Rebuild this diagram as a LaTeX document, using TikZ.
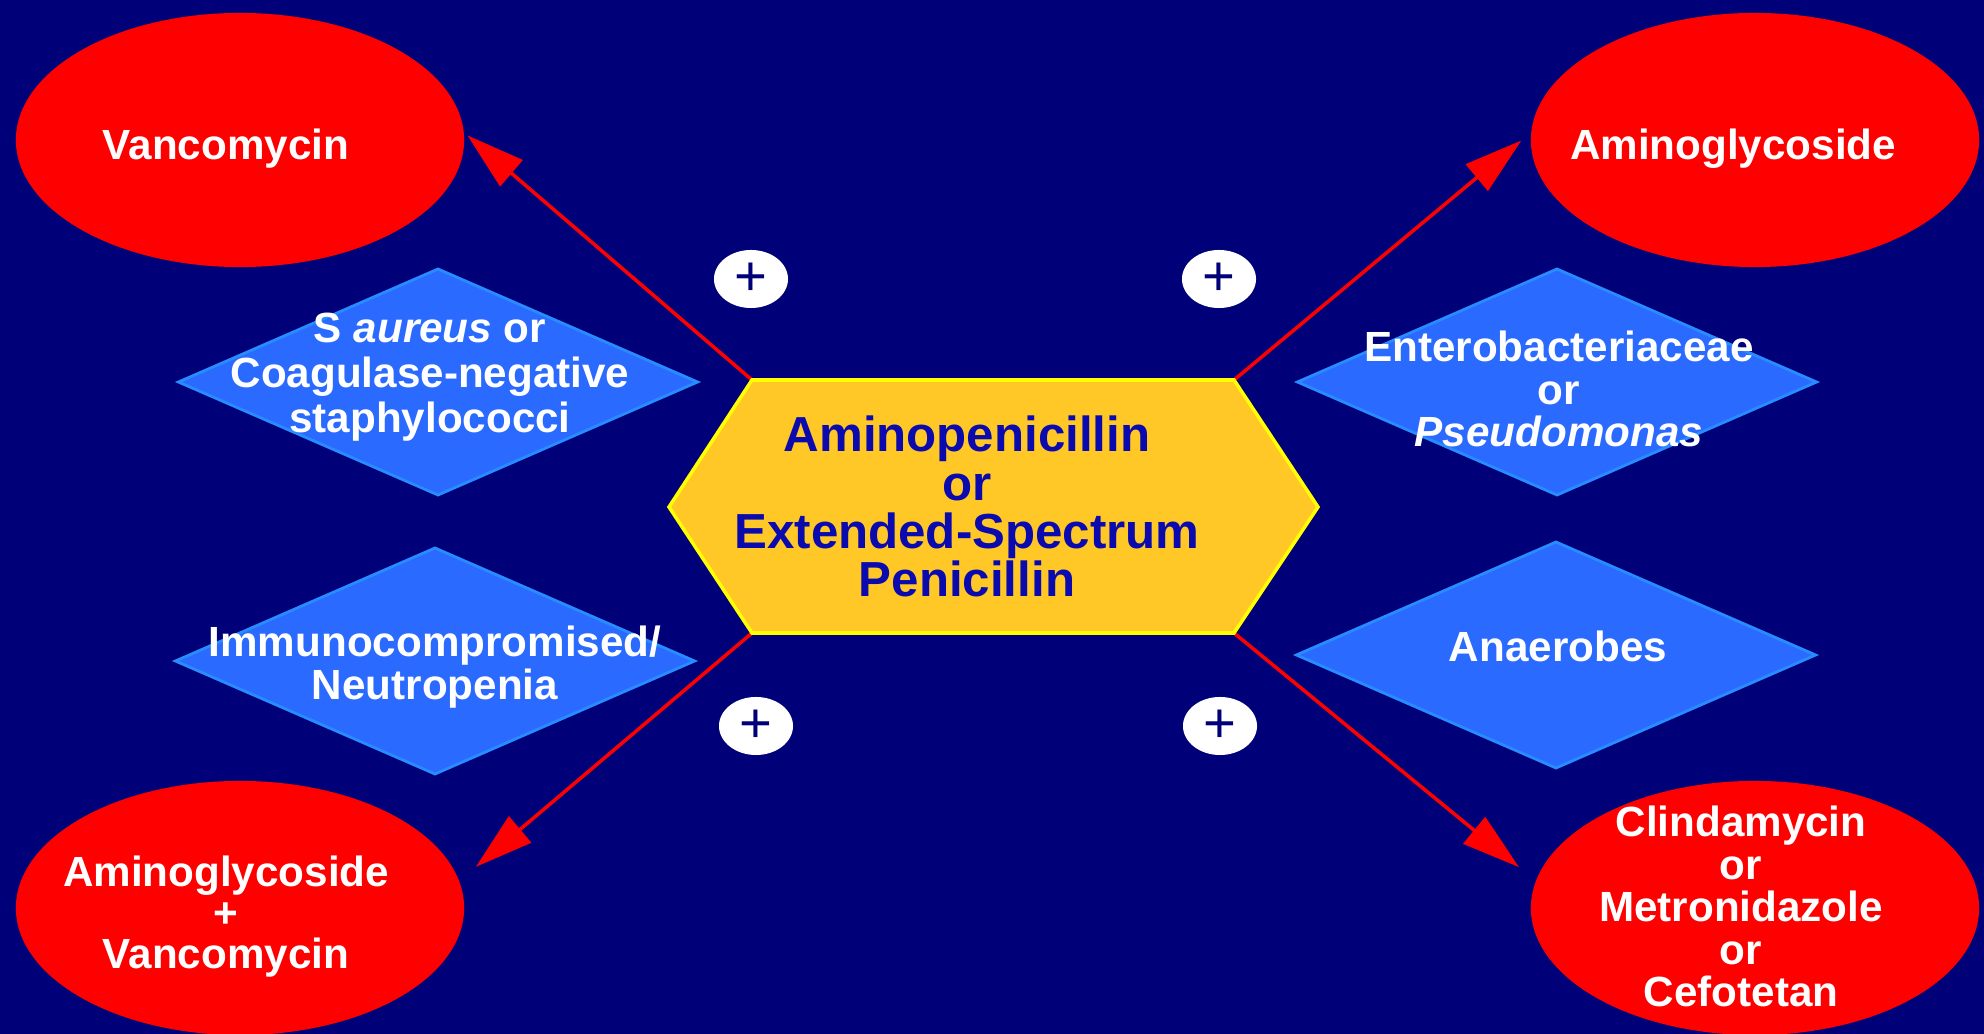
\documentclass[tikz,border=0pt]{standalone}
\usepackage{fontspec}
\setmainfont{Liberation Sans}
\usetikzlibrary{shapes.geometric,arrows.meta}
\definecolor{bgnavy}{RGB}{0,0,120}
\definecolor{ellred}{RGB}{255,0,0}
\definecolor{diablue}{RGB}{42,106,255}
\definecolor{diaedge}{RGB}{40,140,255}
\definecolor{hexfill}{RGB}{255,200,38}
\definecolor{hexedge}{RGB}{255,255,0}
\definecolor{hextext}{RGB}{10,10,175}
\begin{document}
\begin{tikzpicture}[x=0.01cm,y=-0.01cm,
 drug/.style={ellipse, fill=ellred, minimum width=4.48cm, minimum height=2.54cm, inner sep=0pt, outer sep=0pt},
 cond/.style={diamond, fill=diablue, draw=diaedge, line width=0.8pt, minimum width=5.2cm, minimum height=2.27cm, inner sep=0pt},
 drugtext/.style={text=white, font=\fontsize{12}{11.8}\selectfont\bfseries, align=center, anchor=base, inner sep=0pt},
 condtext/.style={text=white, font=\fontsize{12}{12.5}\selectfont\bfseries, align=center, anchor=base, inner sep=0pt},
 plusmark/.style={ellipse, fill=white, minimum width=0.74cm, minimum height=0.58cm, inner sep=0pt, text=bgnavy, font=\fontsize{16}{16}\selectfont},
 link/.style={draw=red, line width=1pt, -{Triangle[length=5.8mm,width=3.4mm]}}
]
\fill[bgnavy] (0,0) rectangle (1984,1034);
\useasboundingbox (0,0) rectangle (1984,1034);

% drug ellipses
\node[drug] (vanc) at (240,140) {};
\node[drug] (amino) at (1755,140) {};
\node[drug] (agv) at (240,908) {};
\node[drug] (cmc) at (1755,908) {};
\node[drugtext] (vanct) at (226,160) {Vancomycin};
\node[drugtext] (aminot) at (1733,160) {Aminoglycoside};
\node[drugtext, font=\fontsize{12}{11.7}\selectfont\bfseries] (agvt) at (226,969) {Aminoglycoside\\+\\Vancomycin};
\node[drugtext, font=\fontsize{12}{12.1}\selectfont\bfseries] (cmct) at (1741,1007) {Clindamycin\\or\\Metronidazole\\or\\Cefotetan};

% condition diamonds
\node[cond] (staph) at (438,382) {};
\node[cond] (entero) at (1557,382) {};
\node[cond] (immuno) at (435,661) {};
\node[cond] (anaer) at (1556,655) {};
\node[condtext, font=\fontsize{12}{12.8}\selectfont\bfseries] (stapht) at (430,433) {S \textit{aureus} or\\Coagulase-negative\\staphylococci};
\node[condtext, font=\fontsize{12}{12.1}\selectfont\bfseries] (enterot) at (1559,447) {Enterobacteriaceae\\or\\\textit{Pseudomonas}};
\node[condtext] (immunot) at (435,700) {Immunocompromised/\\Neutropenia};
\node[condtext] (anaert) at (1558,662) {Anaerobes};

% hexagon corners
\coordinate (hL) at (669,507);
\coordinate (hTL) at (752,380);
\coordinate (hTR) at (1234,380);
\coordinate (hR) at (1318,507);
\coordinate (hBR) at (1234,633);
\coordinate (hBL) at (752,633);

% arrows
\draw[link, shorten >=0.05cm] (hTL) -- (vanc.2);
\draw[link, shorten >=0.13cm] (hTR) -- (amino.178);
\draw[link, shorten >=0.22cm] (hBL) -- (agv.7);
\draw[link, shorten >=0.22cm] (hBR) -- (cmc.173);

% hexagon
\filldraw[fill=hexfill, draw=hexedge, line width=1pt, line join=miter]
  (hL) -- (hTL) -- (hTR) -- (hR) -- (hBR) -- (hBL) -- cycle;
\node[text=hextext, font=\fontsize{14}{13.75}\selectfont\bfseries, align=center, anchor=base, inner sep=0pt] (hext) at (967,597) {Aminopenicillin\\or\\Extended-Spectrum\\Penicillin};

% plus marks
\node[plusmark] (p1) at (751,279) {+};
\node[plusmark] (p2) at (1219,279) {+};
\node[plusmark] (p3) at (756,726) {+};
\node[plusmark] (p4) at (1220,726) {+};
\end{tikzpicture}
\end{document}
